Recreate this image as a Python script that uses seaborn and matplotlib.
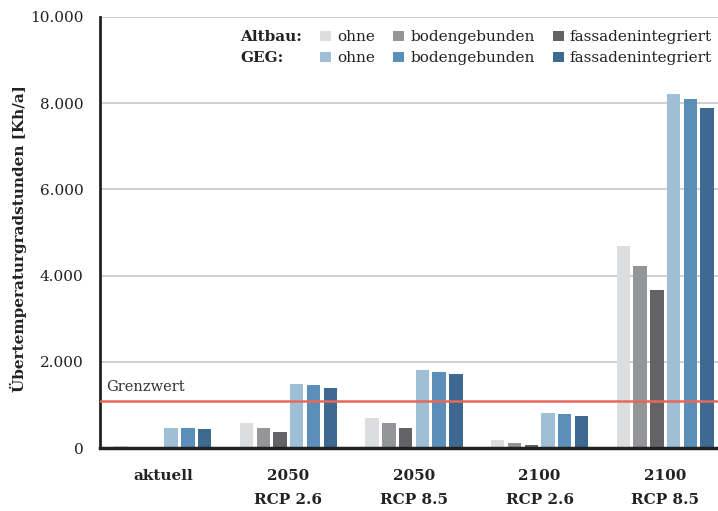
import matplotlib
matplotlib.use("Agg")
import matplotlib.pyplot as plt
import seaborn as sns
import pandas as pd
from matplotlib.patches import Rectangle
from matplotlib.ticker import FuncFormatter

categories = ["aktuell", "2050\nRCP 2.6", "2050\nRCP 8.5", "2100\nRCP 2.6", "2100\nRCP 8.5"]
series = ["Altbau ohne", "Altbau bodengebunden", "Altbau fassadenintegriert",
          "GEG ohne", "GEG bodengebunden", "GEG fassadenintegriert"]
altbau_ohne = [47, 578, 687, 180, 4680]
altbau_boden = [31, 469, 578, 109, 4232]
altbau_fassade = [10, 367, 453, 70, 3668]
geg_ohne = [469, 1484, 1812, 812, 8216]
geg_boden = [453, 1461, 1765, 781, 8093]
geg_fassade = [430, 1398, 1718, 742, 7892]
grenzwert = 1100
legend_labels = ["ohne", "bodengebunden", "fassadenintegriert"]
colors = ["#dcdddf", "#939598", "#636365", "#9fbfd7", "#5b8fba", "#3e6a92"]

values = [altbau_ohne, altbau_boden, altbau_fassade, geg_ohne, geg_boden, geg_fassade]
rows = []
for s, vals in zip(series, values):
    for c, v in zip(categories, vals):
        rows.append({"Kategorie": c, "Serie": s, "Wert": v})
df = pd.DataFrame(rows)

sns.set_theme(style="white")
plt.rcParams["font.family"] = ["DejaVu Serif"]

fig = plt.figure(figsize=(7.18, 5.11), dpi=100)
ax = fig.add_axes([100/718, 63/511, 618/718, 431/511])

ax.yaxis.grid(True, color="#c8c8c8", linewidth=1.2, zorder=0)
ax.set_axisbelow(True)

sns.barplot(data=df, x="Kategorie", y="Wert", hue="Serie", order=categories,
            hue_order=series, palette=colors, width=0.8, gap=0.2,
            saturation=1, linewidth=0, ax=ax, legend=False, zorder=2)

ax.axhline(grenzwert, color="#e8685a", linewidth=1.8, zorder=5)
ax.text(-0.45, grenzwert + 150, "Grenzwert", fontsize=10.5, color="#333333",
        ha="left", va="bottom")

ax.set_ylim(0, 10000)
ax.set_xlim(-0.5, 4.42)
ax.set_yticks([0, 2000, 4000, 6000, 8000, 10000])
ax.yaxis.set_major_formatter(FuncFormatter(lambda v, p: f"{int(v):,}".replace(",", ".")))
ax.tick_params(axis="y", length=0, pad=12, labelsize=11, labelcolor="#222222")
ax.tick_params(axis="x", length=0, pad=15, labelsize=11, labelcolor="#222222")
for lbl in ax.get_xticklabels():
    lbl.set_fontweight("bold")
    lbl.set_linespacing(1.9)
    lbl.set_va("top")
ax.set_xlabel("")
ax.set_ylabel("")
fig.text(0.025, 0.534, "Übertemperaturgradstunden [Kh/a]", rotation=90,
         fontsize=11, fontweight="bold", ha="center", va="center", color="#222222")

for side in ["top", "right"]:
    ax.spines[side].set_visible(False)
ax.spines["left"].set_color("#222222")
ax.spines["left"].set_linewidth(2)
ax.spines["bottom"].set_color("#222222")
ax.spines["bottom"].set_linewidth(2.5)
ax.spines["bottom"].set_zorder(6)

# legend
blank = Rectangle((0, 0), 1, 1, fill=False, edgecolor="none", linewidth=0)
handles = [blank, blank]
labels = ["Altbau:", "GEG:"]
for i in range(3):
    handles += [Rectangle((0, 0), 1, 1, facecolor=colors[i], edgecolor="none"),
                Rectangle((0, 0), 1, 1, facecolor=colors[i + 3], edgecolor="none")]
    labels += [legend_labels[i], legend_labels[i]]
leg = ax.legend(handles, labels, ncol=4, loc="upper right",
                bbox_to_anchor=(1.0, 0.983), frameon=False, fontsize=11,
                handlelength=0.7, handleheight=0.7, handletextpad=0.4,
                columnspacing=1.2, labelspacing=0.45, borderaxespad=0.0)
for t in leg.get_texts():
    t.set_color("#222222")
leg.get_texts()[0].set_fontweight("bold")
leg.get_texts()[1].set_fontweight("bold")

fig.savefig("out.png", dpi=100)
